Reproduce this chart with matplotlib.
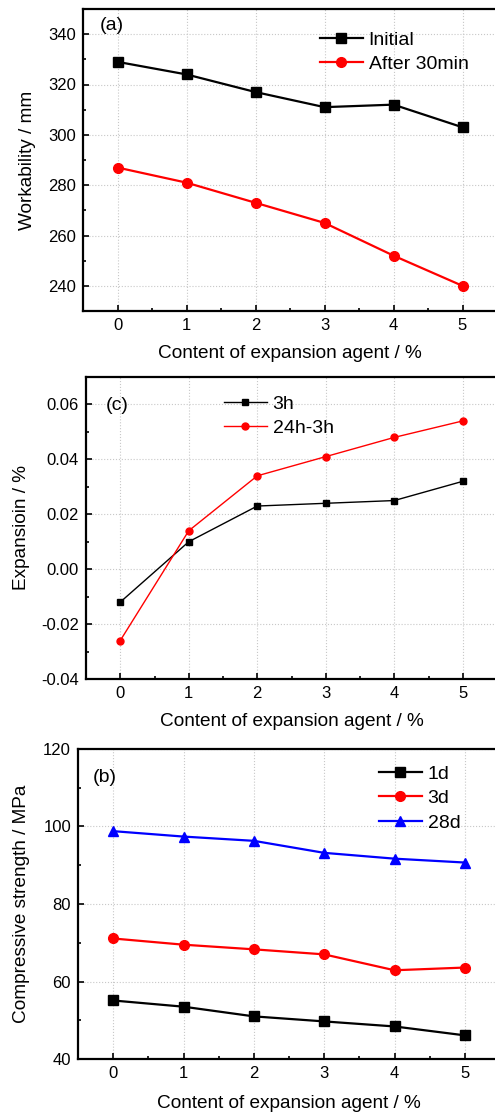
import matplotlib
matplotlib.use("Agg")
import matplotlib.pyplot as plt
from matplotlib.ticker import MultipleLocator, FormatStrFormatter

plt.rcParams["font.family"] = ["Liberation Sans", "DejaVu Sans"]

# -------------------------
# Data
# -------------------------
content = [0, 1, 2, 3, 4, 5]

work_initial = [329, 324, 317, 311, 312, 303]
work_30min = [287, 281, 273, 265, 252, 240]

exp_3h = [-0.012, 0.010, 0.023, 0.024, 0.025, 0.032]
exp_24h_3h = [-0.026, 0.014, 0.034, 0.041, 0.048, 0.054]

cs_1d = [55.1, 53.5, 51.0, 49.7, 48.4, 46.1]
cs_3d = [71.1, 69.5, 68.3, 67.0, 62.9, 63.6]
cs_28d = [98.8, 97.4, 96.3, 93.2, 91.7, 90.7]

xlabel = "Content of expansion agent / %"

W, H = 495, 1113
fig = plt.figure(figsize=(W / 100, H / 100), dpi=100)


def make_ax(left, top, right, bottom):
    return fig.add_axes([left / W, 1 - bottom / H, (right - left) / W, (bottom - top) / H])


def style(ax, ymajor, yminor, ylabel, ylabel_x, xlabel_off=43):
    ax.set_xlim(-0.5, 5.5)
    ax.xaxis.set_major_locator(MultipleLocator(1))
    ax.xaxis.set_minor_locator(MultipleLocator(0.5))
    ax.yaxis.set_major_locator(MultipleLocator(ymajor))
    ax.yaxis.set_minor_locator(MultipleLocator(yminor))
    ax.tick_params(which="both", direction="in", labelsize=12, width=1.2)
    ax.tick_params(which="major", length=4, pad=5)
    ax.tick_params(which="minor", length=2)
    for s in ax.spines.values():
        s.set_linewidth(1.6)
    ax.grid(True, which="major", linestyle=":", color="#c8c8c8", linewidth=0.8)
    ax.set_axisbelow(True)
    ax.set_xlabel(xlabel, fontsize=13.7, va="center")
    ax.xaxis.set_label_coords(0.5, -xlabel_off / ax.bbox.height)
    ax.set_ylabel(ylabel, fontsize=13.7, va="center")
    ax.yaxis.set_label_coords(ylabel_x, 0.5)


def add_legend(ax, left, top):
    ax.legend(loc="upper left", bbox_to_anchor=(left / W, 1 - top / H),
              bbox_transform=fig.transFigure, frameon=False, fontsize=14,
              borderpad=0, borderaxespad=0, handlelength=2.2,
              handletextpad=0.3, labelspacing=0.36)


# -------------------------
# (a) Workability
# -------------------------
ax1 = make_ax(83, 9, 497, 311)
ax1.plot(content, work_initial, "-s", color="black", lw=1.6, ms=6.5, label="Initial")
ax1.plot(content, work_30min, "-o", color="red", lw=1.6, ms=7, label="After 30min")
ax1.set_ylim(230, 350)
style(ax1, 20, 10, "Workability / mm", (27 - 83) / 414)
fig.text(100 / W, 1 - 26 / H, "(a)", fontsize=14, va="center")
add_legend(ax1, 320, 31)

# -------------------------
# (c) Expansion
# -------------------------
ax2 = make_ax(86, 377, 497, 679)
ax2.plot(content, exp_3h, "-s", color="black", lw=1.0, ms=4.5, label="3h")
ax2.plot(content, exp_24h_3h, "-o", color="red", lw=1.0, ms=5, label="24h-3h")
ax2.set_ylim(-0.04, 0.07)
style(ax2, 0.02, 0.01, "Expansioin / %", (22 - 86) / 411)
ax2.yaxis.set_major_formatter(FormatStrFormatter("%.2f"))
fig.text(106 / W, 1 - 405 / H, "(c)", fontsize=14, va="center")
add_legend(ax2, 224, 395)

# -------------------------
# (b) Compressive strength
# -------------------------
ax3 = make_ax(78, 749, 500, 1059)
ax3.plot(content, cs_1d, "-s", color="black", lw=1.6, ms=6.5, label="1d")
ax3.plot(content, cs_3d, "-o", color="red", lw=1.6, ms=7, label="3d")
ax3.plot(content, cs_28d, "-^", color="blue", lw=1.6, ms=7, label="28d")
ax3.set_ylim(40, 120)
style(ax3, 20, 10, "Compressive strength / MPa", (22 - 78) / 422, xlabel_off=44)
fig.text(93 / W, 1 - 777 / H, "(b)", fontsize=14, va="center")
add_legend(ax3, 379, 765)

fig.savefig("out.png", dpi=100)
